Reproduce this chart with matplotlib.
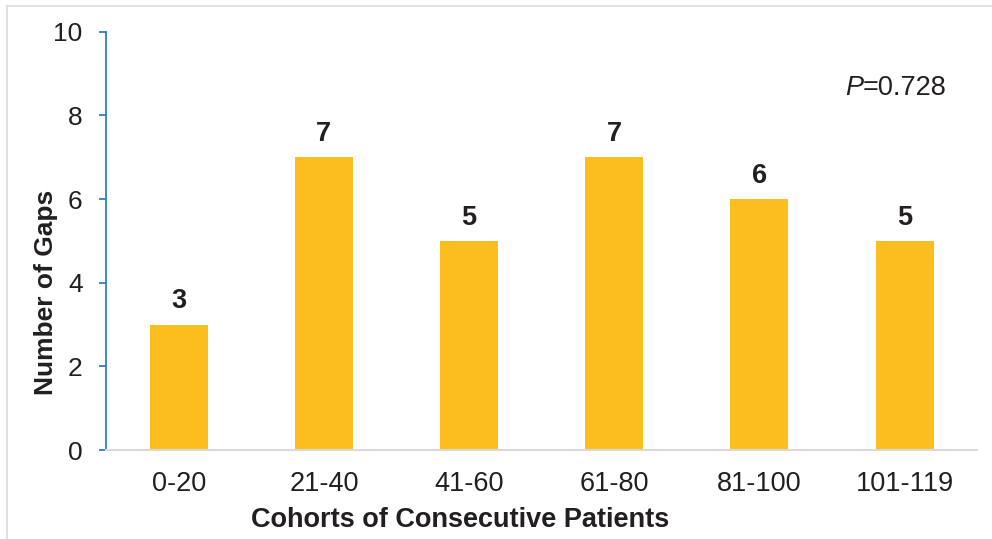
import matplotlib.pyplot as plt
from matplotlib.lines import Line2D

cohorts = ['0-20', '21-40', '41-60', '61-80', '81-100', '101-119']
gaps = [3, 7, 5, 7, 6, 5]
y_ticks = [0, 2, 4, 6, 8, 10]
p_label = '=0.728'

plt.rcParams['font.family'] = ['Liberation Sans', 'DejaVu Sans']
plt.rcParams['text.color'] = '#231F20'

bar_color = '#FCBE1E'
axis_blue = '#2E7DC4'
text_dark = '#231F20'

fig = plt.figure(figsize=(9.92, 5.39), dpi=100)
ax = fig.add_axes([0.107, 0.165, 0.878, 0.776])

x = range(len(cohorts))
bars = ax.bar(x, gaps, width=0.4, color=bar_color, zorder=2)

for xi, v in zip(x, gaps):
    ax.annotate(str(v), (xi, v), xytext=(0, 7.5), textcoords='offset points',
                ha='center', va='bottom', fontsize=19.5, fontweight='bold', color=text_dark)

ax.set_xlim(-0.5, len(cohorts) - 0.5)
ax.set_ylim(0, 10)
ax.set_yticks(y_ticks)
ax.set_xticks(list(x))
ax.set_xticklabels(cohorts)

ax.spines['top'].set_visible(False)
ax.spines['right'].set_visible(False)
ax.spines['left'].set_color(axis_blue)
ax.spines['left'].set_linewidth(1.3)
ax.spines['bottom'].set_color('#D9D9D9')
ax.spines['bottom'].set_linewidth(1.5)

ax.tick_params(axis='y', direction='out', length=5, width=1.3, color=axis_blue,
               labelsize=19, labelcolor=text_dark, pad=12)
ax.tick_params(axis='x', length=0, labelsize=19.5, labelcolor=text_dark, pad=15)

ax.set_xlabel('Cohorts of Consecutive Patients', fontsize=19.5, fontweight='bold',
              color=text_dark)
ax.xaxis.set_label_coords(0.406, -0.135)
ax.set_ylabel('Number of Gaps', fontsize=19, fontweight='bold', color=text_dark)
ax.yaxis.set_label_coords(-0.055, 0.376)

# P value, italic P followed by upright value
ax.text(0.869, 0.866, 'P', transform=ax.transAxes, fontsize=19.5, style='italic',
        ha='right', va='center', color=text_dark)
ax.text(0.869, 0.866, p_label, transform=ax.transAxes, fontsize=19.5,
        ha='left', va='center', color=text_dark)

# thin frame lines along the top and left of the figure
fig.add_artist(Line2D([0.007, 1.0], [0.989, 0.989], transform=fig.transFigure,
                      color='#E0E0E0', linewidth=1.5))
fig.add_artist(Line2D([0.007, 0.007], [0.0, 0.989], transform=fig.transFigure,
                      color='#E0E0E0', linewidth=1.5))

fig.savefig('out.png', dpi=100)
